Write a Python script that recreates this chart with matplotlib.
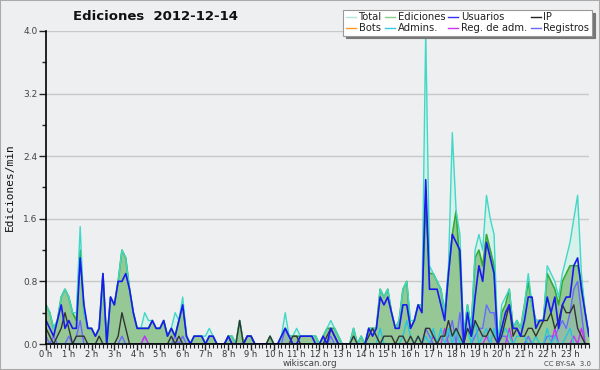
import numpy as np
import matplotlib
matplotlib.use('Agg')
import matplotlib.pyplot as plt
from matplotlib.patches import Rectangle
from matplotlib.ticker import MultipleLocator, FixedLocator

# one value every 10 minutes, 6 per row = one hour per row
total = [
    0.5, 0.4, 0.2, 0.3, 0.6, 0.7,
    0.6, 0.4, 0.4, 1.5, 0.4, 0.2,
    0.2, 0.1, 0.2, 0.9, 0.0, 0.6,
    0.5, 0.8, 1.2, 1.1, 0.7, 0.4,
    0.2, 0.2, 0.4, 0.3, 0.3, 0.2,
    0.2, 0.3, 0.1, 0.2, 0.4, 0.3,
    0.6, 0.1, 0.0, 0.1, 0.1, 0.1,
    0.1, 0.2, 0.1, 0.0, 0.0, 0.0,
    0.1, 0.1, 0.0, 0.3, 0.0, 0.1,
    0.1, 0.0, 0.0, 0.0, 0.0, 0.1,
    0.0, 0.0, 0.1, 0.4, 0.1, 0.1,
    0.2, 0.1, 0.1, 0.1, 0.1, 0.1,
    0.0, 0.1, 0.2, 0.3, 0.2, 0.1,
    0.0, 0.0, 0.0, 0.2, 0.0, 0.1,
    0.0, 0.2, 0.2, 0.2, 0.7, 0.6,
    0.7, 0.4, 0.2, 0.3, 0.7, 0.8,
    0.3, 0.3, 0.5, 0.5, 4.0, 1.0,
    0.9, 0.8, 0.7, 0.4, 1.0, 2.7,
    1.7, 1.4, 0.1, 0.5, 0.2, 1.2,
    1.4, 1.2, 1.9, 1.6, 1.4, 0.0,
    0.5, 0.6, 0.7, 0.2, 0.3, 0.2,
    0.5, 0.9, 0.5, 0.3, 0.3, 0.3,
    1.0, 0.9, 0.8, 0.6, 0.9, 1.1,
    1.3, 1.6, 1.9, 0.9, 0.4, 0.1,
]

ediciones = [
    0.5, 0.4, 0.2, 0.3, 0.6, 0.7,
    0.6, 0.4, 0.3, 1.2, 0.4, 0.2,
    0.2, 0.1, 0.2, 0.9, 0.0, 0.6,
    0.5, 0.8, 1.2, 1.1, 0.7, 0.4,
    0.2, 0.2, 0.2, 0.2, 0.3, 0.2,
    0.2, 0.3, 0.1, 0.2, 0.1, 0.3,
    0.5, 0.1, 0.0, 0.1, 0.1, 0.1,
    0.0, 0.1, 0.1, 0.0, 0.0, 0.0,
    0.1, 0.1, 0.0, 0.3, 0.0, 0.1,
    0.1, 0.0, 0.0, 0.0, 0.0, 0.1,
    0.0, 0.0, 0.1, 0.2, 0.1, 0.1,
    0.1, 0.1, 0.1, 0.1, 0.1, 0.1,
    0.0, 0.1, 0.2, 0.2, 0.2, 0.1,
    0.0, 0.0, 0.0, 0.2, 0.0, 0.1,
    0.0, 0.2, 0.2, 0.2, 0.7, 0.6,
    0.7, 0.4, 0.2, 0.3, 0.7, 0.8,
    0.2, 0.3, 0.5, 0.5, 1.8, 0.9,
    0.9, 0.8, 0.7, 0.4, 0.9, 1.4,
    1.7, 1.0, 0.1, 0.5, 0.2, 1.1,
    1.2, 1.0, 1.4, 1.2, 1.0, 0.0,
    0.4, 0.5, 0.7, 0.2, 0.3, 0.2,
    0.5, 0.8, 0.5, 0.3, 0.3, 0.3,
    0.9, 0.8, 0.7, 0.5, 0.8, 0.9,
    1.0, 1.0, 1.0, 0.8, 0.4, 0.1,
]

usuarios = [
    0.3, 0.2, 0.1, 0.3, 0.5, 0.2,
    0.3, 0.2, 0.2, 1.1, 0.5, 0.2,
    0.2, 0.1, 0.2, 0.9, 0.0, 0.6,
    0.5, 0.8, 0.8, 0.9, 0.7, 0.4,
    0.2, 0.2, 0.2, 0.2, 0.3, 0.2,
    0.2, 0.3, 0.1, 0.2, 0.1, 0.3,
    0.5, 0.1, 0.0, 0.1, 0.1, 0.1,
    0.0, 0.1, 0.1, 0.0, 0.0, 0.0,
    0.1, 0.0, 0.0, 0.0, 0.0, 0.1,
    0.1, 0.0, 0.0, 0.0, 0.0, 0.0,
    0.0, 0.0, 0.1, 0.2, 0.1, 0.0,
    0.0, 0.1, 0.1, 0.1, 0.1, 0.0,
    0.0, 0.1, 0.0, 0.2, 0.1, 0.0,
    0.0, 0.0, 0.0, 0.0, 0.0, 0.0,
    0.0, 0.2, 0.1, 0.2, 0.6, 0.5,
    0.6, 0.4, 0.2, 0.2, 0.5, 0.5,
    0.2, 0.3, 0.5, 0.4, 2.1, 0.7,
    0.7, 0.7, 0.5, 0.3, 0.9, 1.4,
    1.3, 1.2, 0.0, 0.4, 0.1, 0.6,
    1.0, 0.8, 1.3, 1.1, 0.9, 0.0,
    0.2, 0.4, 0.5, 0.2, 0.2, 0.1,
    0.3, 0.6, 0.6, 0.2, 0.3, 0.3,
    0.6, 0.4, 0.6, 0.2, 0.5, 0.6,
    0.6, 1.0, 1.1, 0.7, 0.4, 0.1,
]

ip = [
    0.2, 0.1, 0.0, 0.1, 0.2, 0.4,
    0.2, 0.0, 0.1, 0.1, 0.1, 0.0,
    0.0, 0.0, 0.1, 0.0, 0.0, 0.0,
    0.0, 0.1, 0.4, 0.2, 0.0, 0.0,
    0.0, 0.0, 0.0, 0.0, 0.0, 0.0,
    0.0, 0.0, 0.0, 0.1, 0.0, 0.1,
    0.0, 0.0, 0.0, 0.0, 0.0, 0.0,
    0.0, 0.0, 0.0, 0.0, 0.0, 0.0,
    0.1, 0.0, 0.0, 0.3, 0.0, 0.1,
    0.1, 0.0, 0.0, 0.0, 0.0, 0.1,
    0.0, 0.0, 0.0, 0.0, 0.0, 0.1,
    0.1, 0.0, 0.0, 0.0, 0.0, 0.0,
    0.0, 0.0, 0.1, 0.2, 0.1, 0.0,
    0.0, 0.0, 0.0, 0.1, 0.0, 0.0,
    0.0, 0.1, 0.2, 0.1, 0.0, 0.1,
    0.1, 0.1, 0.0, 0.1, 0.1, 0.0,
    0.1, 0.0, 0.1, 0.0, 0.2, 0.2,
    0.1, 0.0, 0.1, 0.1, 0.3, 0.1,
    0.2, 0.1, 0.0, 0.2, 0.1, 0.3,
    0.2, 0.1, 0.1, 0.2, 0.1, 0.0,
    0.1, 0.3, 0.5, 0.1, 0.2, 0.1,
    0.1, 0.2, 0.2, 0.1, 0.2, 0.3,
    0.3, 0.4, 0.2, 0.3, 0.5, 0.4,
    0.4, 0.5, 0.2, 0.1, 0.0, 0.0,
]

bots = [0.0] * 144

admins = [0.0] * 84 + [
    0.0, 0.0, 0.0, 0.0, 0.2, 0.0,
    0.0, 0.0, 0.0, 0.0, 0.1, 0.3,
    0.1, 0.0, 0.1, 0.0, 0.1, 0.0,
    0.2, 0.0, 0.2, 0.0, 0.2, 0.0,
    0.2, 0.0, 0.1, 0.2, 0.0, 0.3,
    0.0, 0.1, 0.2, 0.0, 0.2, 0.0,
    0.1, 0.2, 0.1, 0.0, 0.1, 0.1,
    0.1, 0.0, 0.0, 0.1, 0.0, 0.0,
    0.2, 0.0, 0.1, 0.0, 0.0, 0.1,
    0.2, 0.0, 0.0, 0.0, 0.0, 0.0,
]

reg_adm = [0.0] * 144
for i, v in [(26, 0.1), (102, 0.1), (105, 0.2), (116, 0.1),
             (122, 0.2), (134, 0.2), (139, 0.1), (141, 0.2)]:
    reg_adm[i] = v

registros = [
    0.1, 0.0, 0.1, 0.0, 0.0, 0.0,
    0.1, 0.0, 0.1, 0.3, 0.0, 0.0,
    0.0, 0.0, 0.0, 0.0, 0.0, 0.0,
    0.0, 0.0, 0.1, 0.0, 0.0, 0.0,
    0.0, 0.0, 0.1, 0.0, 0.0, 0.0,
    0.0, 0.0, 0.0, 0.0, 0.1, 0.0,
    0.1, 0.0, 0.0, 0.0, 0.0, 0.0,
] + [0.0] * 18 + [
    0.0, 0.0, 0.0, 0.2, 0.1, 0.0,
    0.0, 0.0, 0.0, 0.0, 0.0, 0.0,
    0.0, 0.0, 0.0, 0.1, 0.0, 0.0,
] + [0.0] * 18 + [
    0.0, 0.0, 0.0, 0.0, 0.2, 0.1,
    0.0, 0.0, 0.0, 0.0, 0.1, 0.3,
    0.0, 0.4, 0.0, 0.0, 0.0, 0.1,
    0.2, 0.2, 0.5, 0.4, 0.4, 0.0,
    0.1, 0.1, 0.0, 0.0, 0.0, 0.0,
    0.0, 0.1, 0.0, 0.0, 0.0, 0.0,
    0.1, 0.1, 0.1, 0.2, 0.3, 0.2,
    0.4, 0.7, 0.8, 0.4, 0.0, 0.0,
]

hours = np.arange(len(total)) / 6.0
hour_labels = ['%d h' % h for h in range(24)]

BG = '#eeeff0'

fig = plt.figure(figsize=(6.0, 3.7), dpi=100, facecolor=BG)
ax = fig.add_axes([46 / 600, 26 / 370, 543 / 600, 313 / 370])
ax.set_facecolor(BG)

ax.fill_between(hours, total, color='#d6f0ea', lw=0, zorder=1)
ax.fill_between(hours, ediciones, color='#96c896', lw=0, zorder=2)
ax.fill_between(hours, registros, color='#8890e0', alpha=0.2, lw=0, zorder=2)
ax.plot(hours, ediciones, color='#33aa33', lw=1.2, zorder=3)
ax.plot(hours, total, color='#40d8c8', lw=1.0, zorder=4)
ax.plot(hours, bots, color='#ff9922', lw=1.0, zorder=3)
ax.plot(hours, registros, color='#6a6aff', lw=1.0, zorder=5)
ax.plot(hours, reg_adm, color='#cc33ee', lw=1.0, zorder=5)
ax.plot(hours, admins, color='#22c8dd', lw=1.0, zorder=5)
ax.plot(hours, ip, color='#333333', lw=1.0, zorder=6)
ax.plot(hours, usuarios, color='#1a1aee', lw=1.2, zorder=7)

ax.set_xlim(0, hours[-1])
ax.set_ylim(0, 4.0)

ax.yaxis.set_major_locator(MultipleLocator(0.8))
ax.yaxis.set_minor_locator(MultipleLocator(0.4))
ax.yaxis.set_major_formatter(plt.FormatStrFormatter('%.1f'))
ax.xaxis.set_major_locator(FixedLocator(range(24)))
ax.xaxis.set_minor_locator(MultipleLocator(1 / 6))
ax.set_xticklabels(hour_labels)
ax.grid(axis='y', color='#c8c8c8', lw=1.0, zorder=0)
ax.set_axisbelow(True)

ax.tick_params(axis='y', which='major', length=5, width=1, labelsize=6.5,
               colors='#222222', labelcolor='#444444', pad=1)
ax.tick_params(axis='y', which='minor', length=3, width=1, colors='#222222')
ax.tick_params(axis='x', which='major', length=4, width=1, labelsize=6,
               colors='#222222', labelcolor='#333333', pad=0)
ax.tick_params(axis='x', which='minor', length=3, width=0.8, colors='#222222')

for s in ['top', 'right']:
    ax.spines[s].set_visible(False)
for s in ['left', 'bottom']:
    ax.spines[s].set_color('#000000')
    ax.spines[s].set_linewidth(1.2)
    ax.spines[s].set_zorder(10)

ax.set_ylabel('Ediciones/min', family='DejaVu Sans Mono', fontsize=8,
              color='#111111', labelpad=6)

fig.text(155 / 600, 1 - 17 / 370, 'Ediciones  2012-12-14', ha='center',
         va='center', fontsize=9.5, fontweight='bold', color='#111111')
fig.text(310 / 600, 1 - 364 / 370, 'wikiscan.org', ha='center', va='center',
         fontsize=6.3, color='#444444')
fig.text(591 / 600, 1 - 364 / 370, 'CC BY-SA  3.0', ha='right', va='center',
         fontsize=5, color='#444444')

# legend, 4 columns x 2 rows
labels = ['Total', 'Bots', 'Ediciones', 'Admins.', 'Usuarios',
          'Reg. de adm.', 'IP', 'Registros']
colors = ['#aee8e0', '#ff9922', '#88d088', '#33ccdd', '#3333ee',
          '#cc33ee', '#222222', '#6a6aee']
handles = [plt.Line2D([], [], color=c, lw=1.0) for c in colors]
leg = fig.legend(handles, labels, ncol=4, loc='upper right',
                 bbox_to_anchor=(592 / 600, 1 - 10 / 370), fontsize=7.2,
                 frameon=True, fancybox=False, handlelength=1.0,
                 handletextpad=0.3, columnspacing=0.3, borderpad=0.25,
                 labelspacing=0.05, borderaxespad=0,
                 shadow={'color': '#777777', 'alpha': 1})
leg.get_frame().set_edgecolor('#999999')
leg.get_frame().set_linewidth(0.8)
for t in leg.get_texts():
    t.set_color('#222222')

fig.patches.append(Rectangle((0, 0), 1, 1, transform=fig.transFigure,
                             fill=False, edgecolor='#aaaaaa', lw=1.5))

fig.savefig('out.png', dpi=100, facecolor=BG)
